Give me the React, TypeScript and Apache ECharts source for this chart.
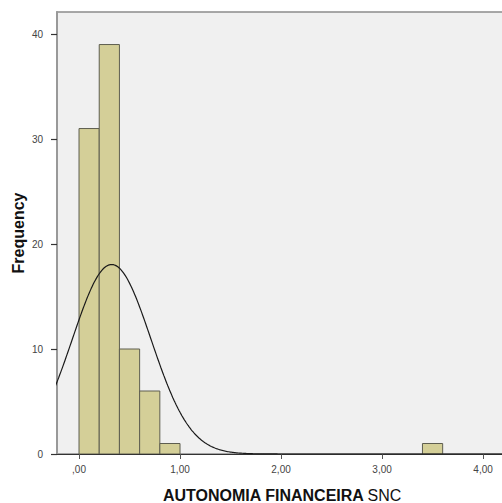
import React, { useEffect, useRef } from "react";
import * as echarts from "echarts";

// Histogram bins (lower edge, upper edge) and frequencies
const binStarts = [0.0, 0.2, 0.4, 0.6, 0.8, 3.4];
const binWidth = 0.2;
const counts = [31, 39, 10, 6, 1, 1];

// Normal fit parameters (mean, std. dev., N)
const fitMean = 0.323;
const fitStd = 0.389;
const fitN = 88;

const xTickValues = [0, 1, 2, 3, 4];
const xTickLabels = [",00", "1,00", "2,00", "3,00", "4,00"];
const yTickValues = [0, 10, 20, 30, 40];

const xTitle = "AUTONOMIA FINANCEIRA";
const xTitleTail = "SNC";
const yTitle = "Frequency";

const X_MIN = -0.218;
const X_MAX = 4.237;
const Y_MAX = 42.1;

export default function App() {
  const ref = useRef<HTMLDivElement>(null);
  useEffect(() => {
    if (!ref.current) return;
    const chart = echarts.init(ref.current, null, { renderer: "svg" });

    const curve: number[][] = [];
    for (let i = 0; i <= 460; i++) {
      const x = -0.3 + i * 0.01;
      const z = (x - fitMean) / fitStd;
      const y = (fitN * binWidth) / (fitStd * Math.sqrt(2 * Math.PI)) * Math.exp(-0.5 * z * z);
      curve.push([x, y]);
    }

    const barData = binStarts.map((s, i) => [s, s + binWidth, counts[i]]);
    const font = "Liberation Sans, Arial, sans-serif";

    chart.setOption({
      animation: false,
      grid: {
        left: 57,
        right: -5,
        top: 12,
        bottom: 49,
        outerBoundsMode: "none",
        containLabel: false,
        show: true,
        backgroundColor: "#f0f0f0",
        borderColor: "#8c8c8c",
        borderWidth: 1.5,
      },
      xAxis: {
        type: "value",
        min: X_MIN,
        max: X_MAX,
        splitLine: { show: false },
        axisLine: { show: true, onZero: false, lineStyle: { color: "#333", width: 1.2 } },
        axisTick: {
          show: true,
          customValues: xTickValues,
          length: 5,
          lineStyle: { color: "#555" },
        },
        axisLabel: {
          customValues: xTickValues,
          formatter: (v: number) => {
            const idx = xTickValues.indexOf(v);
            return idx >= 0 ? xTickLabels[idx] : "";
          },
          color: "#444",
          fontSize: 10,
          fontFamily: font,
          margin: 10,
        },
        name: `{b|${xTitle}} {n|${xTitleTail}}`,
        nameLocation: "middle",
        nameGap: 33,
        nameMoveOverlap: false,
        nameTextStyle: {
          rich: {
            b: { fontSize: 16, fontWeight: "bold", color: "#111", fontFamily: font },
            n: { fontSize: 16, fontWeight: "normal", color: "#111", fontFamily: font },
          },
        },
      },
      yAxis: {
        type: "value",
        min: 0,
        max: Y_MAX,
        interval: 10,
        splitLine: { show: false },
        axisLine: { show: true, onZero: false, lineStyle: { color: "#999", width: 2 } },
        axisTick: { show: true, length: 6, lineStyle: { color: "#333", width: 1.2 }, customValues: yTickValues },
        axisLabel: {
          customValues: yTickValues,
          color: "#444",
          fontSize: 10,
          fontFamily: font,
          margin: 14,
        },
        name: yTitle,
        nameLocation: "middle",
        nameGap: 31,
        nameMoveOverlap: false,
        nameRotate: 90,
        nameTextStyle: {
          fontSize: 16,
          fontWeight: "bold",
          color: "#111",
          fontFamily: font,
        },
      },
      series: [
        {
          type: "custom",
          data: barData,
          clip: true,
          renderItem: (params: any, api: any) => {
            const p0 = api.coord([api.value(0), api.value(2)]);
            const p1 = api.coord([api.value(1), 0]);
            return {
              type: "rect",
              shape: { x: p0[0], y: p0[1], width: p1[0] - p0[0], height: p1[1] - p0[1] },
              style: { fill: "#d4cf98", stroke: "#5e5e50", lineWidth: 1 },
            };
          },
          encode: { x: [0, 1], y: 2 },
          z: 2,
        },
        {
          type: "line",
          data: curve,
          showSymbol: false,
          symbol: "none",
          clip: true,
          lineStyle: { color: "#1a1a1a", width: 1.2 },
          z: 3,
        },
      ],
    });
    return () => chart.dispose();
  }, []);
  return (
    <div
      ref={ref}
      style={{ position: "absolute", left: 0, top: 0, width: 502, height: 503, background: "#fff" }}
    />
  );
}
